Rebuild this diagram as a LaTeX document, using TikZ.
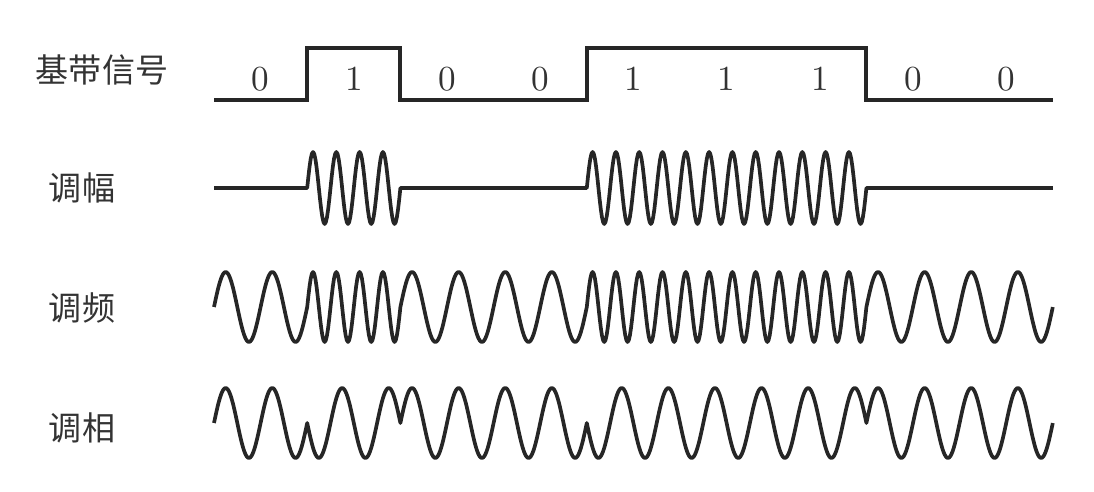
\documentclass[tikz,border=0pt]{standalone}
\usepackage{fontspec}
\newfontfamily\cjk{Noto Sans CJK SC}
\usepackage{tikz}
\usetikzlibrary{calc}

\begin{document}
\begin{tikzpicture}[x=0.01cm, y=-0.01cm,
  sig/.style={line width=1.1pt, color=black!85},
  wave/.style={line width=1.05pt, color=black!85, line join=round},
  lbl/.style={font=\cjk\fontsize{9.4}{11}\selectfont, text=black!80},
  bit/.style={font=\fontsize{10}{12}\selectfont, text=black!80}]
\useasboundingbox (0,0) rectangle (1094,492);
\def\xo{214}\def\w{93.2}
% labels
\node[lbl] (base) at (102,70) {基带信号};
\node[lbl] (am) at (82,188) {调幅};
\node[lbl] (fm) at (82,308) {调频};
\node[lbl] (pm) at (82,428) {调相};
% baseband
\draw[sig] (\xo,100) -- ({\xo+\w},100) -- ({\xo+\w},48) -- ({\xo+2*\w},48)
  -- ({\xo+2*\w},100) -- ({\xo+4*\w},100) -- ({\xo+4*\w},48) -- ({\xo+7*\w},48)
  -- ({\xo+7*\w},100) -- ({\xo+9*\w},100);
\foreach \b [count=\k] in {0,1,0,0,1,1,1,0,0}
  \node[bit] (b\k) at ({\xo+\w*(\k-0.5)},79) {\b};
% AM
\draw[wave] (\xo,188) \foreach \b [count=\k from 0] in {0,1,0,0,1,1,1,0,0}
  { -- plot[domain=0:1, samples=81] ({\xo+\w*(\k+\x)}, {188-36*\b*sin(1440*\x)}) };
% FM
\draw[wave] (\xo,307) \foreach \b [count=\k from 0] in {0,1,0,0,1,1,1,0,0}
  { -- plot[domain=0:1, samples=81] ({\xo+\w*(\k+\x)}, {307-35*sin(360*(2+2*\b)*\x)}) };
% PM
\draw[wave] (\xo,423) \foreach \b [count=\k from 0] in {0,1,0,0,1,1,1,0,0}
  { -- plot[domain=0:1, samples=81] ({\xo+\w*(\k+\x)}, {423-35*(1-2*\b)*sin(720*\x)}) };
\end{tikzpicture}
\end{document}
